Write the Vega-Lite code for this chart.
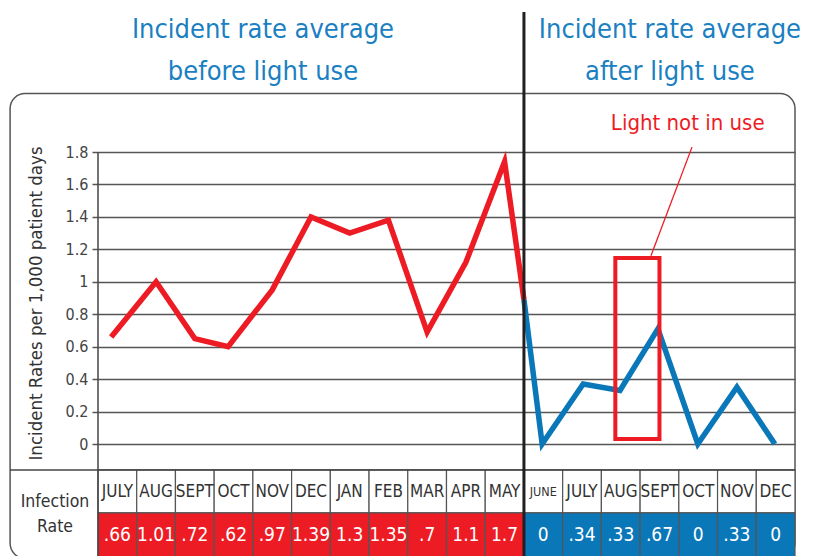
{
  "$schema": "https://vega.github.io/schema/vega-lite/v6.json",
  "width": 697,
  "height": 292,
  "autosize": {"type": "none"},
  "padding": {"left": 98, "top": 152, "right": 22, "bottom": 112},
  "background": "white",
  "config": {
    "view": {"stroke": null},
    "font": "DejaVu Sans Condensed, sans-serif",
    "numberFormat": "~g",
    "axisY": {
      "domain": false,
      "tickCount": 12,
      "labelOverlap": false,
      "grid": true, "gridColor": "#555", "gridWidth": 1.5, "gridOpacity": 1,
      "ticks": true, "tickSize": 6, "tickColor": "#555", "tickWidth": 1.5,
      "labelFont": "DejaVu Sans Condensed", "labelFontSize": 16, "labelColor": "#444", "labelPadding": 4,
      "titleFont": "DejaVu Sans Condensed", "titleFontSize": 18.5, "titleFontWeight": "normal", "titleColor": "#333",
      "titleX": -63, "titleY": 151, "titleAngle": -90, "titleAlign": "center", "titleBaseline": "middle"
    }
  },
  "data": {"values": [{}]},
  "datasets": {
    "months": [
      {"period": "before", "idx": 0, "month": "JULY", "label": ".66"},
      {"period": "before", "idx": 1, "month": "AUG", "label": "1.01"},
      {"period": "before", "idx": 2, "month": "SEPT", "label": ".72"},
      {"period": "before", "idx": 3, "month": "OCT", "label": ".62"},
      {"period": "before", "idx": 4, "month": "NOV", "label": ".97"},
      {"period": "before", "idx": 5, "month": "DEC", "label": "1.39"},
      {"period": "before", "idx": 6, "month": "JAN", "label": "1.3"},
      {"period": "before", "idx": 7, "month": "FEB", "label": "1.35"},
      {"period": "before", "idx": 8, "month": "MAR", "label": ".7"},
      {"period": "before", "idx": 9, "month": "APR", "label": "1.1"},
      {"period": "before", "idx": 10, "month": "MAY", "label": "1.7"},
      {"period": "after", "idx": 11, "month": "JUNE", "label": "0"},
      {"period": "after", "idx": 12, "month": "JULY", "label": ".34"},
      {"period": "after", "idx": 13, "month": "AUG", "label": ".33"},
      {"period": "after", "idx": 14, "month": "SEPT", "label": ".67"},
      {"period": "after", "idx": 15, "month": "OCT", "label": "0"},
      {"period": "after", "idx": 16, "month": "NOV", "label": ".33"},
      {"period": "after", "idx": 17, "month": "DEC", "label": "0"}
    ],
    "line": [
      {"series": "before", "idx": -0.16, "rate": 0.66},
      {"series": "before", "idx": 1, "rate": 1.0},
      {"series": "before", "idx": 2, "rate": 0.65},
      {"series": "before", "idx": 2.86, "rate": 0.6},
      {"series": "before", "idx": 4, "rate": 0.95},
      {"series": "before", "idx": 5, "rate": 1.4},
      {"series": "before", "idx": 6, "rate": 1.3},
      {"series": "before", "idx": 7, "rate": 1.38},
      {"series": "before", "idx": 8, "rate": 0.69},
      {"series": "before", "idx": 9, "rate": 1.12},
      {"series": "before", "idx": 10, "rate": 1.74},
      {"series": "before", "idx": 10.5, "rate": 0.89},
      {"series": "after", "idx": 10.5, "rate": 0.89},
      {"series": "after", "idx": 10.97, "rate": 0.0},
      {"series": "after", "idx": 12.03, "rate": 0.37},
      {"series": "after", "idx": 12.98, "rate": 0.33},
      {"series": "after", "idx": 13.96, "rate": 0.71},
      {"series": "after", "idx": 14.99, "rate": 0.0},
      {"series": "after", "idx": 16, "rate": 0.35},
      {"series": "after", "idx": 16.98, "rate": 0.0}
    ]
  },
  "layer": [
    {
      "data": {"name": "line"},
      "mark": {"type": "line", "strokeWidth": 5.5, "strokeJoin": "miter", "strokeCap": "butt"},
      "encoding": {
        "x": {"field": "idx", "type": "quantitative", "axis": null,
              "scale": {"domain": [-0.5, 17.5], "nice": false, "zero": false}},
        "y": {"field": "rate", "type": "quantitative",
              "scale": {"domain": [0, 1.8], "nice": false, "zero": false},
              "axis": {"values": [0, 0.2, 0.4, 0.6, 0.8, 1, 1.2, 1.4, 1.6, 1.8], "format": "~g", "tickCount": 12,
                       "title": "Incident Rates per 1,000 patient days"}},
        "color": {"field": "series", "type": "nominal", "legend": null,
                  "scale": {"domain": ["before", "after"], "range": ["#ed1c24", "#0a77b9"]}},
        "detail": {"field": "series"}
      }
    },
    {
      "mark": {"type": "rect", "cornerRadius": 15, "fill": "transparent", "stroke": "#555", "strokeWidth": 1.5},
      "encoding": {
        "x": {"datum": -2.77, "type": "quantitative", "axis": null},
        "x2": {"datum": 17.5},
        "y": {"datum": 2.16, "type": "quantitative"},
        "y2": {"datum": -0.705}
      }
    },
    {
      "data": {"name": "months"},
      "transform": [{"calculate": "datum.idx - 0.5", "as": "lo"}, {"calculate": "datum.idx + 0.5", "as": "hi"}],
      "mark": {"type": "rect", "fill": "white", "stroke": "#555", "strokeWidth": 1.2},
      "encoding": {
        "x": {"field": "lo", "type": "quantitative", "axis": null},
        "x2": {"field": "hi"},
        "y": {"datum": -0.16, "type": "quantitative"},
        "y2": {"datum": -0.425}
      }
    },
    {
      "data": {"name": "months"},
      "transform": [{"calculate": "datum.idx - 0.5", "as": "lo"}, {"calculate": "datum.idx + 0.5", "as": "hi"}],
      "mark": {"type": "rect", "stroke": "#555", "strokeWidth": 1.2},
      "encoding": {
        "x": {"field": "lo", "type": "quantitative", "axis": null},
        "x2": {"field": "hi"},
        "y": {"datum": -0.425, "type": "quantitative"},
        "y2": {"datum": -0.75},
        "fill": {"field": "period", "type": "nominal", "legend": null,
                 "scale": {"domain": ["before", "after"], "range": ["#ed1c24", "#0a77b9"]}}
      }
    },
    {
      "data": {"name": "months"},
      "mark": {"type": "text", "baseline": "middle", "align": "center", "color": "#333"},
      "encoding": {
        "x": {"field": "idx", "type": "quantitative", "axis": null},
        "y": {"datum": -0.293, "type": "quantitative"},
        "text": {"field": "month"},
        "size": {"condition": {"test": "datum.month === 'JUNE'", "value": 12.5}, "value": 17}
      }
    },
    {
      "data": {"name": "months"},
      "mark": {"type": "text", "baseline": "middle", "align": "center", "color": "white", "fontSize": 19},
      "encoding": {
        "x": {"field": "idx", "type": "quantitative", "axis": null},
        "y": {"datum": -0.56, "type": "quantitative"},
        "text": {"field": "label"}
      }
    },
    {
      "mark": {"type": "rule", "color": "#444", "strokeWidth": 1.5},
      "encoding": {
        "x": {"datum": -0.5, "type": "quantitative", "axis": null},
        "y": {"datum": 1.8, "type": "quantitative"},
        "y2": {"datum": -0.75}
      }
    },
    {
      "mark": {"type": "rule", "color": "#444", "strokeWidth": 1.5},
      "encoding": {
        "x": {"datum": -2.77, "type": "quantitative", "axis": null},
        "x2": {"datum": 17.5},
        "y": {"datum": -0.16, "type": "quantitative"}
      }
    },
    {
      "mark": {"type": "rule", "color": "#231f20", "strokeWidth": 3},
      "encoding": {
        "x": {"datum": 10.5, "type": "quantitative", "axis": null},
        "y": {"datum": 2.663, "type": "quantitative"},
        "y2": {"datum": -0.75}
      }
    },
    {
      "mark": {"type": "rect", "fill": "transparent", "stroke": "#ed1c24", "strokeWidth": 4},
      "encoding": {
        "x": {"datum": 12.86, "type": "quantitative", "axis": null},
        "x2": {"datum": 14.0},
        "y": {"datum": 1.147, "type": "quantitative"},
        "y2": {"datum": 0.031}
      }
    },
    {
      "mark": {"type": "rule", "color": "#ed1c24", "strokeWidth": 1.3},
      "encoding": {
        "x": {"datum": 13.78, "type": "quantitative", "axis": null},
        "x2": {"datum": 14.84},
        "y": {"datum": 1.16, "type": "quantitative"},
        "y2": {"datum": 1.83}
      }
    },
    {
      "mark": {"type": "text", "align": "center", "baseline": "alphabetic", "color": "#ed1c24", "fontSize": 22},
      "encoding": {
        "x": {"datum": 14.73, "type": "quantitative", "axis": null},
        "y": {"datum": 1.936, "type": "quantitative"},
        "text": {"value": "Light not in use"}
      }
    },
    {
      "mark": {"type": "text", "align": "center", "baseline": "alphabetic", "color": "#1a80c2", "fontSize": 27, "lineHeight": 42},
      "encoding": {
        "x": {"datum": 3.76, "type": "quantitative", "axis": null},
        "y": {"datum": 2.503, "type": "quantitative"},
        "text": {"value": ["Incident rate average", "before light use"]}
      }
    },
    {
      "mark": {"type": "text", "align": "center", "baseline": "alphabetic", "color": "#1a80c2", "fontSize": 27, "lineHeight": 42},
      "encoding": {
        "x": {"datum": 14.27, "type": "quantitative", "axis": null},
        "y": {"datum": 2.503, "type": "quantitative"},
        "text": {"value": ["Incident rate average", "after light use"]}
      }
    },
    {
      "mark": {"type": "text", "align": "center", "baseline": "alphabetic", "color": "#333", "fontSize": 17.5, "lineHeight": 25},
      "encoding": {
        "x": {"datum": -1.61, "type": "quantitative", "axis": null},
        "y": {"datum": -0.388, "type": "quantitative"},
        "text": {"value": ["Infection", "Rate"]}
      }
    }
  ]
}
